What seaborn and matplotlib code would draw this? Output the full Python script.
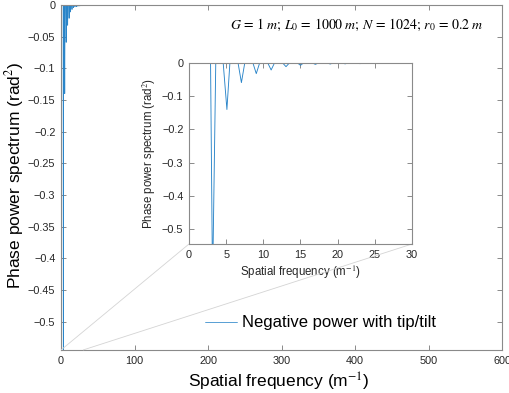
import numpy as np
import pandas as pd
import matplotlib
matplotlib.use("Agg")
import matplotlib.pyplot as plt
import seaborn as sns
from matplotlib.ticker import FuncFormatter
from mpl_toolkits.axes_grid1.inset_locator import mark_inset

# ---- data ----
# spikes: left baseline, minimum position, right baseline, minimum value
spike_left = [2.9, 4.6, 6.6, 8.6, 10.6, 12.6, 14.6, 16.6, 18.6, 20.6, 22.6, 24.6, 26.6, 28.6, 30.6, 32.6, 34.6]
spike_freq = [3.17, 5.1, 7.05, 9.05, 11.05, 13.05, 15.0, 17.0, 19.0, 21.0, 23.0, 25.0, 27.0, 29.0, 31.0, 33.0, 35.0]
spike_right = [3.6, 5.5, 7.5, 9.5, 11.5, 13.5, 15.4, 17.4, 19.4, 21.4, 23.4, 25.4, 27.4, 29.4, 31.4, 33.4, 35.4]
spike_depth = [-0.67, -0.14, -0.059, -0.032, -0.021, -0.011, -0.007, -0.004, -0.003, -0.0025,
               -0.002, -0.0015, -0.0012, -0.001, -0.0008, -0.0006, -0.0005]
f_start = 0.0
f_end = 512.0

main_xticks = [0, 100, 200, 300, 400, 500, 600]
main_yticks = [0, -0.05, -0.1, -0.15, -0.2, -0.25, -0.3, -0.35, -0.4, -0.45, -0.5]
inset_xticks = [0, 5, 10, 15, 20, 25, 30]
inset_yticks = [0, -0.1, -0.2, -0.3, -0.4, -0.5]

freq = [f_start]
power = [0.0]
for l, f, r, d in zip(spike_left, spike_freq, spike_right, spike_depth):
    freq += [l, f, r]
    power += [0.0, d, 0.0]
freq.append(f_end)
power.append(0.0)
df = pd.DataFrame({"freq": freq, "power": power})

# ---- style ----
sns.set_theme(style="white")
plt.rcParams['font.family'] = ['Liberation Sans', 'DejaVu Sans']
plt.rcParams['mathtext.fontset'] = 'stix'

line_color = '#2a85c9'
spine_color = '#8a8a8a'
text_color = '#262626'

fig = plt.figure(figsize=(5.10, 3.93), dpi=100)
ax = fig.add_axes([61/510, 1-350/393, (502-61)/510, (350-5)/393])

sns.lineplot(data=df, x="freq", y="power", ax=ax, sort=False, estimator=None,
             color=line_color, linewidth=0.55, label="Negative power with tip/tilt")

ylo = -0.545
ax.set_xlim(0, 600)
ax.set_ylim(ylo, 0)
ax.set_xticks(main_xticks)
ax.set_yticks(main_yticks)

fmt = FuncFormatter(lambda v, p: ('%g' % v).replace('-', '\u2212'))
ax.yaxis.set_major_formatter(fmt)
ax.xaxis.set_major_formatter(fmt)

def style_axes(a, fs):
    for s in a.spines.values():
        s.set_color(spine_color)
        s.set_linewidth(0.8)
        s.set_visible(True)
    a.tick_params(direction='in', length=3.5, width=0.7, color=spine_color,
                  labelsize=fs, labelcolor=text_color, top=True, right=True,
                  bottom=True, left=True, pad=4)
    a.grid(False)

style_axes(ax, 7.8)
ax.set_xlabel("Spatial frequency (m$^{-1}$)", fontsize=12.5, color='black')
ax.set_ylabel("Phase power spectrum (rad$^2$)", fontsize=12.5, color='black')
ax.xaxis.set_label_coords((279-61)/441, (350-382)/345)
ax.yaxis.set_label_coords((15-61)/441, 0.505)
ax.xaxis.label.set_va('center')
ax.yaxis.label.set_va('center')

ax.text((483-61)/441, 1-(25-5)/345, r"$G\,=\,1\;m;\,L_0\,=\,1000\;m;\,N\,=\,1024;\,r_0\,=\,0.2\;m$",
        transform=ax.transAxes, ha='right', va='center', fontsize=10, color='black')

leg = ax.legend(loc='center left', bbox_to_anchor=(205/510, 1-323/393),
                bbox_transform=fig.transFigure, frameon=False, fontsize=12,
                handlelength=1.9, handletextpad=0.35, borderpad=0, borderaxespad=0)
for t in leg.get_texts():
    t.set_color('black')

# ---- inset ----
axins = fig.add_axes([189/510, 1-244/393, (412-189)/510, (244-63)/393])
sns.lineplot(data=df, x="freq", y="power", ax=axins, sort=False, estimator=None,
             color=line_color, linewidth=0.65, legend=False)
axins.set_xlim(0, 30)
axins.set_ylim(ylo, 0)
axins.set_xticks(inset_xticks)
axins.set_yticks(inset_yticks)
axins.xaxis.set_major_formatter(fmt)
axins.yaxis.set_major_formatter(fmt)
style_axes(axins, 7.8)
axins.set_facecolor('white')
axins.set_xlabel("Spatial frequency (m$^{-1}$)", fontsize=8.3, color=text_color, labelpad=3)
axins.set_ylabel("Phase power spectrum (rad$^2$)", fontsize=8.3, color=text_color, labelpad=3)

rect, c1, c2 = mark_inset(ax, axins, loc1=3, loc2=4, fc='none', ec='#d4d4d4', lw=0.6)
rect.set_visible(False)

fig.savefig("out.png", dpi=100)
